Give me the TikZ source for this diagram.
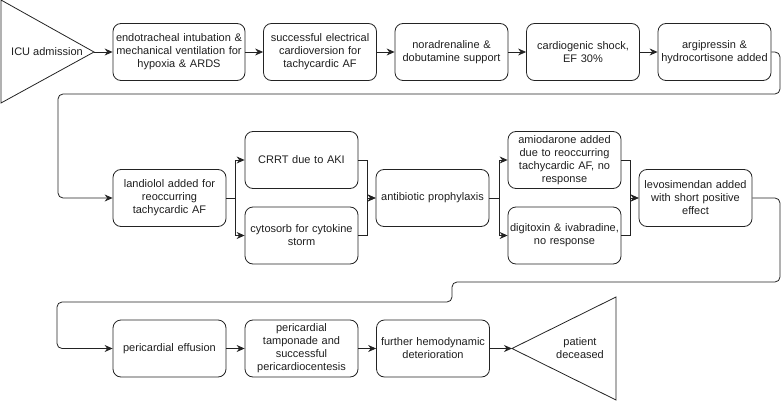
\documentclass[tikz,border=0pt]{standalone}
\usepackage{fontspec}
\setmainfont{Liberation Sans}
\usetikzlibrary{arrows.meta}
\definecolor{ptLine}{RGB}{35,35,35}
\definecolor{ptText}{RGB}{30,30,30}
\tikzset{
    base/.style={font=\fontsize{11}{13}\selectfont, align=center, text=ptText},
    stage/.style={base, rectangle, rounded corners=8pt, draw=ptLine, line width=0.8pt,
                  minimum width=113pt, minimum height=57pt, text width=111pt, inner sep=1pt},
    endpoint/.style={draw=ptLine, line width=0.8pt},
    flow/.style={-{Stealth[length=8pt,width=7pt]}, line width=0.8pt, color=ptLine},
    link/.style={line width=0.8pt, color=ptLine}
}

\begin{document}
\begin{tikzpicture}[x=1pt,y=-1pt]
  \useasboundingbox (0,0) rectangle (781,401);

  % Admission and first row
  \coordinate (icuTip) at (94,52);
  \draw[endpoint] (1,0) -- (icuTip) -- (1,103) -- cycle;
  \node[base] (icu) at (47,52) {ICU admission};
  \node[stage, minimum width=132pt, text width=130pt] (intub) at (179,52) {endotracheal intubation \&\\mechanical ventilation for\\hypoxia \& ARDS};
  \node[stage] (cardiov) at (320,52) {successful electrical\\cardioversion for\\tachycardic AF};
  \node[stage] (noradr) at (451.5,52) {noradrenaline \&\\dobutamine support};
  \node[stage] (shock) at (583,52) {cardiogenic shock,\\EF 30\%};
  \node[stage] (argi) at (714.5,52) {argipressin \&\\hydrocortisone added};

  \draw[flow] (icuTip) -- (intub);
  \draw[flow] (intub) -- (cardiov);
  \draw[flow] (cardiov) -- (noradr);
  \draw[flow] (noradr) -- (shock);
  \draw[flow] (shock) -- (argi);

  % Second row
  \node[stage] (landiolol) at (169.5,198) {landiolol added for\\reoccurring\\tachycardic AF};
  \node[stage] (crrt) at (301.5,160) {CRRT due to AKI};
  \node[stage] (cytosorb) at (301.5,235.5) {cytosorb for cytokine\\storm};
  \node[stage] (antibio) at (432.5,198) {antibiotic prophylaxis};
  \node[stage] (amiod) at (564.5,160) {amiodarone added\\due to reoccurring\\tachycardic AF, no\\response};
  \node[stage] (digitox) at (564.5,235.5) {digitoxin \& ivabradine,\\no response};
  \node[stage] (levosim) at (695.5,198) {levosimendan added\\with short positive\\effect};

  \draw[flow, rounded corners=5pt] (argi.east) -- (780,52) -- (780,94) -- (58,94) -- (58,198) -- (landiolol.west);

  \draw[link] (landiolol.east) -- ++(9,0) coordinate (splitA);
  \draw[flow] (splitA) |- (crrt.west);
  \draw[flow] (splitA) |- (cytosorb.west);
  \draw[flow] (crrt.east) -- ++(9,0) |- (antibio.west);
  \draw[flow] (cytosorb.east) -- ++(9,0) |- (antibio.west);

  \draw[link] (antibio.east) -- ++(10,0) coordinate (splitB);
  \draw[flow] (splitB) |- (amiod.west);
  \draw[flow] (splitB) |- (digitox.west);
  \draw[flow] (amiod.east) -- ++(9,0) |- (levosim.west);
  \draw[flow] (digitox.east) -- ++(9,0) |- (levosim.west);

  % Third row
  \node[stage] (effusion) at (169.5,348.5) {pericardial effusion};
  \node[stage] (tampon) at (301.5,348.5) {pericardial\\tamponade and\\successful\\pericardiocentesis};
  \node[stage] (hemodyn) at (433,348.5) {further hemodynamic\\deterioration};
  \coordinate (deathTip) at (512,348.5);
  \draw[endpoint] (deathTip) -- (616,297) -- (616,400) -- cycle;
  \node[base] (death) at (580,348.5) {patient\\deceased};

  \draw[flow, rounded corners=5pt] (levosim.east) -- (780,198) -- (780,282) -- (452,282) -- (452,302) -- (57,302) -- (57,348.5) -- (effusion.west);

  \draw[flow] (effusion) -- (tampon);
  \draw[flow] (tampon) -- (hemodyn);
  \draw[flow] (hemodyn) -- (deathTip);
\end{tikzpicture}
\end{document}
